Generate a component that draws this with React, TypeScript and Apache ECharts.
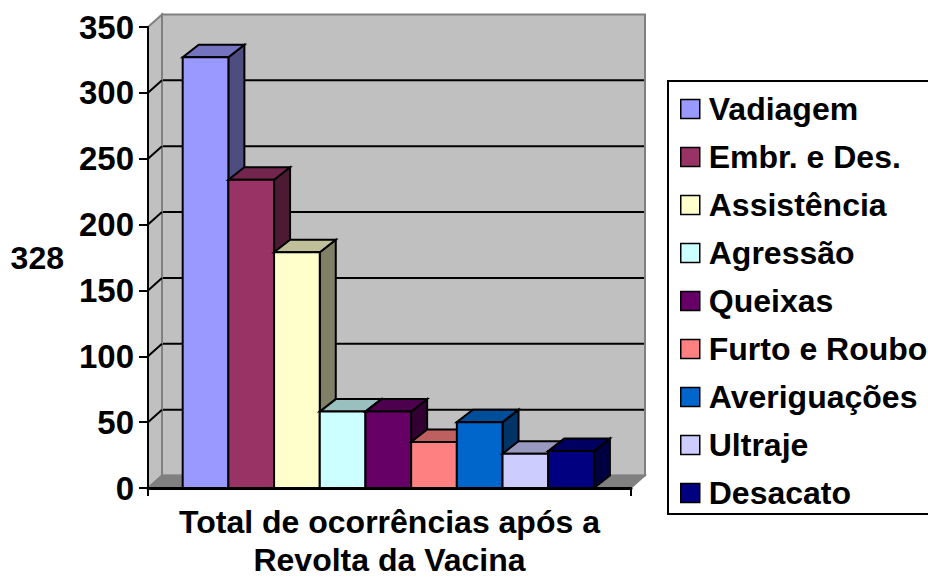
import React, { useEffect, useRef } from "react";
import * as echarts from "echarts";

const categoryLabels = ["Total de ocorrências após a\nRevolta da Vacina"];
const seriesNames = ["Vadiagem", "Embr. e Des.", "Assistência", "Agressão", "Queixas", "Furto e Roubo", "Averiguações", "Ultraje", "Desacato"];
const seriesValues = [327, 234, 179, 58, 58, 35, 50, 26, 28];
const seriesColors = ["#9999FF", "#993366", "#FFFFCC", "#CCFFFF", "#660066", "#FF8080", "#0066CC", "#CCCCFF", "#000080"];
const gridTicks = [0, 50, 100, 150, 200, 250, 300, 350];

const FONT = "'Liberation Sans', Arial, sans-serif";
const WALL_DX = 14;
const DX = 16;
const DY = 12.5;

function shade(hex: string, k: number) {
  const n = parseInt(hex.slice(1), 16);
  const c = (v: number) => Math.round(v * k);
  return `rgb(${c((n >> 16) & 255)},${c((n >> 8) & 255)},${c(n & 255)})`;
}

function renderWalls(_: any, api: any) {
  const [cx, y0] = api.coord([0, 0]);
  const [, yTop] = api.coord([0, 350]);
  const w = api.size([1, 0])[0];
  const xL = cx - w / 2;
  const xR = cx + w / 2;
  const gray = "#808080";
  const children: any[] = [
    { type: "polygon", shape: { points: [[xL + WALL_DX, yTop - DY], [xR + WALL_DX, yTop - DY], [xR + WALL_DX, y0 - DY], [xL + WALL_DX, y0 - DY]] }, style: { fill: "#C0C0C0", stroke: gray, lineWidth: 2 } },
    { type: "polygon", shape: { points: [[xL, yTop], [xL + WALL_DX, yTop - DY], [xL + WALL_DX, y0 - DY], [xL, y0]] }, style: { fill: "#C0C0C0", stroke: gray, lineWidth: 2 } },
  ];
  gridTicks.slice(1, -1).forEach((t) => {
    const y = api.coord([0, t])[1];
    children.push({ type: "polyline", shape: { points: [[xL, y], [xL + WALL_DX, y - DY]] }, style: { fill: "none", stroke: "#000", lineWidth: 2 } });
    children.push({ type: "polyline", shape: { points: [[xL + WALL_DX + 1, y - DY], [xR + WALL_DX - 1, y - DY]] }, style: { fill: "none", stroke: "#000", lineWidth: 2 } });
  });
  children.push({ type: "polygon", shape: { points: [[xL, y0], [xL + WALL_DX, y0 - DY], [xR + WALL_DX, y0 - DY], [xR, y0]] }, style: { fill: gray, stroke: gray, lineWidth: 1.5 } });
  return { type: "group", children };
}

function makeBarRenderer(i: number) {
  return (_: any, api: any) => {
    const [cx, y0] = api.coord([0, 0]);
    const y1 = api.coord([0, api.value(1)])[1];
    const catW = api.size([1, 0])[0];
    const bw = catW * 0.0946;
    const x0 = cx - 1.2 + (i - 4.5) * bw;
    const x1 = x0 + bw;
    const color = seriesColors[i];
    const line = { stroke: "#000", lineWidth: 2, lineJoin: "miter" };
    return {
      type: "group",
      children: [
        { type: "polygon", shape: { points: [[x1, y1], [x1 + DX, y1 - DY], [x1 + DX, y0 - DY], [x1, y0]] }, style: { fill: shade(color, 0.5), ...line } },
        { type: "polygon", shape: { points: [[x0, y1], [x0 + DX, y1 - DY], [x1 + DX, y1 - DY], [x1, y1]] }, style: { fill: shade(color, 0.75), ...line } },
        { type: "polygon", shape: { points: [[x0, y1], [x1, y1], [x1, y0], [x0, y0]] }, style: { fill: color, ...line } },
      ],
    };
  };
}

export default function App() {
  const ref = useRef<HTMLDivElement>(null);
  useEffect(() => {
    const chart = echarts.init(ref.current!, undefined, { renderer: "svg" });
    chart.setOption({
      animation: false,
      backgroundColor: "#fff",
      textStyle: { fontFamily: FONT },
      grid: { left: 148, right: 297, top: 27, bottom: 90, containLabel: false, outerBoundsMode: "none" },
      xAxis: {
        type: "category",
        data: categoryLabels,
        z: 5,
        axisLine: { lineStyle: { color: "#000", width: 3 } },
        axisTick: { show: true, length: 8, lineStyle: { color: "#000", width: 2 } },
        axisLabel: { interval: 0, color: "#000", fontFamily: FONT, fontWeight: "bold", fontSize: 32, lineHeight: 38, margin: 15 },
      },
      yAxis: {
        type: "value",
        min: 0,
        max: 350,
        interval: 50,
        z: 5,
        name: "328",
        nameLocation: "middle",
        nameRotate: 0,
        nameGap: 84,
        nameTextStyle: { color: "#000", fontFamily: FONT, fontWeight: "bold", fontSize: 32 },
        axisLine: { show: true, lineStyle: { color: "#000", width: 2 } },
        axisTick: { show: true, length: 9, lineStyle: { color: "#000", width: 2 } },
        axisLabel: { color: "#000", fontFamily: FONT, fontWeight: "bold", fontSize: 33, margin: 14 },
        splitLine: { show: false },
      },
      legend: {
        orient: "vertical",
        left: 668,
        top: 81,
        padding: [12, 24, 5, 12],
        itemWidth: 19,
        itemHeight: 19,
        itemGap: 16,
        borderColor: "#000",
        borderWidth: 2,
        selectedMode: false,
        textStyle: { color: "#000", fontFamily: FONT, fontWeight: "bold", fontSize: 32, padding: [0, 0, 0, 4] },
        data: seriesNames.map((name, i) => ({ name, icon: "rect", itemStyle: { color: seriesColors[i], borderColor: "#000", borderWidth: 1.5 } })),
      },
      series: [
        { type: "custom", name: "wall", coordinateSystem: "cartesian2d", silent: true, data: [[0, 0]], encode: { x: 0, y: 1 }, renderItem: renderWalls },
        ...seriesNames.map((name, i) => ({
          type: "custom",
          name,
          coordinateSystem: "cartesian2d",
          data: [[0, seriesValues[i]]],
          encode: { x: 0, y: 1 },
          itemStyle: { color: seriesColors[i] },
          renderItem: makeBarRenderer(i),
        })),
      ],
    });
    return () => chart.dispose();
  }, []);
  return <div ref={ref} style={{ position: "fixed", left: 0, top: 0, width: 928, height: 578 }} />;
}
